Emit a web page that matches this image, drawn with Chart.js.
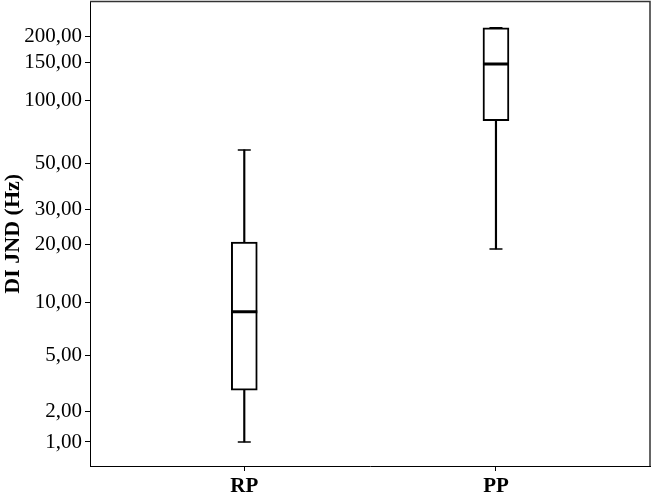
<!DOCTYPE html>
<html>
<head>
<meta charset="utf-8">
<script src="https://cdn.jsdelivr.net/npm/chart.js"></script>
<style>
  html, body { margin: 0; padding: 0; background: #fff; }
  #wrap { width: 653px; height: 496px; }
</style>
</head>
<body>
<div id="wrap"><canvas id="c" width="653" height="496"></canvas></div>
<script>
// ---- data ----
const categories = ['RP', 'PP'];
const whiskerLow = [1.0, 19];
const quartile1 = [2.93, 80];
const medians = [8.9, 148];
const quartile3 = [20.6, 219];
const whiskerHigh = [58, 219];
const yTickValues = [1, 2, 5, 10, 20, 30, 50, 100, 150, 200];

// ---- offset-log value transform used by the axis ----
const OFFSET = 1.6;
const tf = v => Math.log10(v + OFFSET);
const itf = u => Math.pow(10, u) - OFFSET;

class OffsetLogScale extends Chart.LinearScale {
  determineDataLimits() {
    this.min = this.options.min;
    this.max = this.options.max;
  }
  buildTicks() {
    return [];
  }
  configure() {
    super.configure();
    this._tStart = tf(this.min);
    this._tEnd = tf(this.max);
  }
  getPixelForValue(value) {
    return this.getPixelForDecimal((tf(value) - this._tStart) / (this._tEnd - this._tStart));
  }
  getValueForPixel(pixel) {
    const d = this.getDecimalForPixel(pixel);
    return itf(this._tStart + d * (this._tEnd - this._tStart));
  }
}
OffsetLogScale.id = 'offsetLog';
OffsetLogScale.defaults = {};
Chart.register(OffsetLogScale);

Chart.defaults.font.family = "'Liberation Serif', 'Times New Roman', serif";
Chart.defaults.color = '#000';

const framePlugin = {
  id: 'frame',
  beforeDatasetsDraw(chart) {
    const { ctx, chartArea: a } = chart;
    ctx.save();
    ctx.strokeStyle = '#333';
    ctx.lineWidth = 1.5;
    ctx.beginPath();
    ctx.moveTo(a.left, a.top);
    ctx.lineTo(a.right, a.top);
    ctx.lineTo(a.right, a.bottom);
    ctx.stroke();
    ctx.restore();
  }
};

const idx = categories.map((c, i) => i);

new Chart(document.getElementById('c'), {
  type: 'bar',
  data: {
    datasets: [
      {
        type: 'scatter',
        label: 'median',
        data: idx.map(i => ({ x: i, y: medians[i] })),
        pointStyle: 'line',
        pointRadius: 13,
        pointBorderWidth: 3,
        pointBorderColor: '#000',
        order: 0
      },
      {
        type: 'scatter',
        label: 'caps',
        data: idx.map(i => ({ x: i, y: whiskerLow[i] })).concat(idx.map(i => ({ x: i, y: whiskerHigh[i] }))),
        pointStyle: 'line',
        pointRadius: 6.5,
        pointBorderWidth: 1.5,
        pointBorderColor: '#000',
        order: 1
      },
      {
        type: 'bar',
        label: 'box',
        data: idx.map(i => ({ x: i, y: [quartile1[i], quartile3[i]] })),
        backgroundColor: '#fff',
        borderColor: '#000',
        borderWidth: 2,
        borderSkipped: false,
        barThickness: 26,
        grouped: false,
        order: 2
      },
      {
        type: 'bar',
        label: 'whiskerLow',
        data: idx.map(i => ({ x: i, y: [whiskerLow[i], quartile1[i]] })),
        backgroundColor: '#000',
        borderWidth: 0,
        barThickness: 1.5,
        grouped: false,
        order: 3
      },
      {
        type: 'bar',
        label: 'whiskerHigh',
        data: idx.map(i => ({ x: i, y: [quartile3[i], whiskerHigh[i]] })),
        backgroundColor: '#000',
        borderWidth: 0,
        barThickness: 1.5,
        grouped: false,
        order: 3
      }
    ]
  },
  options: {
    responsive: false,
    animation: false,
    events: [],
    layout: { autoPadding: false, padding: { top: 1.5, right: 3, bottom: 0, left: 0 } },
    plugins: {
      legend: { display: false },
      tooltip: { enabled: false },
      title: { display: false }
    },
    scales: {
      x: {
        type: 'linear',
        offset: false,
        min: -0.613,
        max: 1.612,
        afterBuildTicks: axis => { axis.ticks = idx.map(i => ({ value: i })); },
        afterFit: scale => { scale.height = 30; scale.paddingLeft = 0; scale.paddingRight = 0; },
        grid: { offset: false, drawOnChartArea: false, drawTicks: true, tickLength: 5, color: '#000', lineWidth: 1 },
        border: { display: true, color: '#000', width: 1 },
        ticks: {
          autoSkip: false,
          maxRotation: 0,
          padding: 3,
          color: '#000',
          font: { size: 21, weight: 'bold' },
          callback: v => categories[v]
        }
      },
      y: {
        type: 'offsetLog',
        min: 0.41,
        max: 291,
        afterBuildTicks: axis => { axis.ticks = yTickValues.map(v => ({ value: v })); },
        afterFit: scale => { scale.width = 90; scale.paddingTop = 0; scale.paddingBottom = 0; },
        grid: { drawOnChartArea: false, drawTicks: true, tickLength: 5, color: '#000', lineWidth: 1 },
        border: { display: true, color: '#000', width: 1 },
        ticks: {
          autoSkip: false,
          padding: 3,
          color: '#000',
          font: { size: 21 },
          callback: v => Number(v).toFixed(2).replace('.', ',')
        },
        title: {
          display: true,
          text: 'DI JND (Hz)',
          color: '#000',
          font: { size: 22, weight: 'bold' },
          padding: { top: 0, bottom: 0 }
        }
      }
    }
  },
  plugins: [framePlugin]
});
</script>
</body>
</html>
